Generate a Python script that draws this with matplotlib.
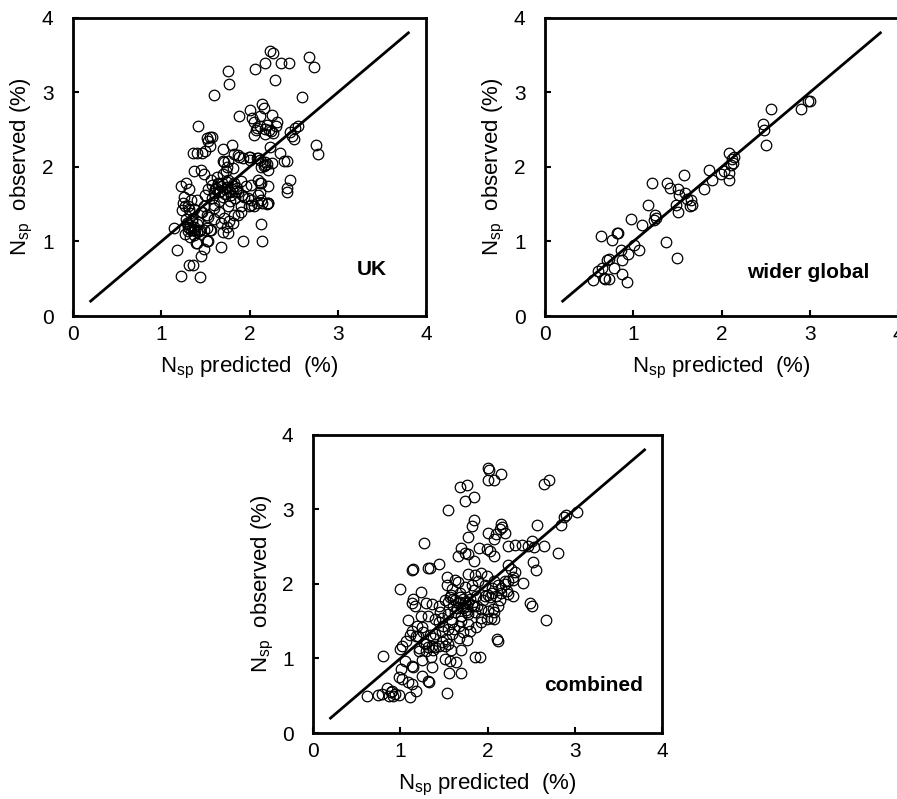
import numpy as np
import matplotlib
matplotlib.use("Agg")
import matplotlib.pyplot as plt

plt.rcParams['font.family'] = ['Liberation Sans', 'DejaVu Sans']
plt.rcParams['mathtext.default'] = 'regular'

# ---- UK ----
uk_x = [2.23, 2.27, 2.18, 2.36, 2.45, 2.67, 2.73, 2.06, 1.76, 1.77, 2.29, 1.60, 2.59, 2.75, 2.78,
        2.14, 2.16, 2.00, 1.88, 2.03, 2.05, 2.12, 2.25, 2.31, 2.30, 2.08, 2.12, 2.18, 2.22, 2.27,
        2.17, 2.05, 2.07, 2.20, 2.24, 2.52, 2.55, 2.48, 2.50, 2.46, 2.23, 2.35, 2.39, 2.42, 2.46,
        2.42, 2.43,
        1.42, 1.52, 1.55, 1.58, 1.53, 1.36, 1.40, 1.46, 1.50, 1.55, 1.70, 1.80, 1.70, 1.76, 1.82,
        1.88, 1.99, 2.01, 2.08, 2.12, 2.18, 2.20, 2.16,
        1.87, 1.93, 2.00, 2.10, 2.17, 2.25, 2.21, 2.13, 1.71, 1.75, 1.81, 1.73, 1.37, 1.45, 1.48,
        1.22, 1.28, 1.31, 1.26, 1.34,
        1.56, 1.64, 1.68, 1.76, 1.83, 1.90, 1.96, 2.02, 2.10, 2.13, 2.21, 1.53, 1.60, 1.70, 1.79,
        1.87, 1.94, 2.02, 2.10, 2.13, 2.21, 1.41, 1.48, 1.60, 1.76, 1.90, 2.05,
        1.14, 1.18, 1.31, 1.36, 1.22, 1.44, 1.45, 1.48, 1.39, 1.53, 1.68, 1.93, 2.14, 2.13, 2.21,
        2.02, 1.87, 1.81, 1.76, 1.70, 1.56, 1.34, 1.30, 1.37, 1.41, 1.48, 1.30, 1.37, 1.45, 1.53,
        1.60, 1.65, 1.71, 1.77, 1.83, 1.90, 1.37, 1.41,
        1.25, 1.27, 1.31, 1.33, 1.29, 1.31, 1.36, 1.38, 1.44, 1.52, 1.55, 1.52,
        2.12, 2.14, 2.20, 2.08, 1.99, 2.12,
        1.62, 1.67, 1.72, 1.58, 1.64, 1.74, 1.80, 1.85, 1.50, 1.57, 1.66, 1.78, 1.84, 1.92, 1.98,
        1.46, 1.52, 1.60, 1.68, 1.74, 1.35, 1.42, 1.27, 1.33, 1.63, 1.70,
        1.66, 1.72, 1.78, 1.82, 1.69, 1.75, 1.61, 1.86, 1.33, 1.40, 1.28, 1.35, 1.43, 1.30, 1.24]
uk_y = [3.56, 3.53, 3.39, 3.40, 3.40, 3.47, 3.34, 3.32, 3.29, 3.11, 3.17, 2.97, 2.94, 2.29, 2.17,
        2.85, 2.79, 2.77, 2.68, 2.66, 2.60, 2.69, 2.70, 2.61, 2.55, 2.53, 2.55, 2.51, 2.49, 2.46,
        2.44, 2.43, 2.50, 2.56, 2.48, 2.52, 2.55, 2.41, 2.37, 2.47, 2.27, 2.19, 2.08, 2.08, 1.82,
        1.72, 1.67,
        2.55, 2.39, 2.40, 2.40, 2.35, 2.19, 2.19, 2.19, 2.21, 2.28, 2.24, 2.30, 2.08, 2.08, 2.17,
        2.14, 2.14, 2.10, 2.12, 2.10, 2.03, 2.04, 2.01,
        2.16, 2.12, 2.14, 2.12, 2.07, 2.06, 1.96, 2.00, 2.07, 2.00, 1.99, 1.94, 1.94, 1.96, 1.90,
        1.74, 1.79, 1.70, 1.60, 1.56,
        1.83, 1.79, 1.74, 1.83, 1.79, 1.81, 1.74, 1.76, 1.83, 1.79, 1.74, 1.70, 1.65, 1.60, 1.63,
        1.67, 1.60, 1.56, 1.63, 1.56, 1.52, 1.56, 1.47, 1.49, 1.47, 1.47, 1.47,
        1.18, 0.89, 0.68, 0.69, 0.54, 0.52, 0.80, 0.90, 0.98, 1.00, 0.93, 1.00, 1.00, 1.23, 1.51,
        1.49, 1.36, 1.25, 1.12, 1.13, 1.16, 1.16, 1.20, 1.20, 1.13, 1.16, 1.47, 1.43, 1.39, 1.33,
        1.45, 1.39, 1.32, 1.27, 1.36, 1.39, 1.09, 0.98,
        1.52, 1.47, 1.43, 1.38, 1.25, 1.18, 1.16, 1.16, 1.16, 1.18, 1.16, 1.00,
        1.78, 1.52, 1.50, 1.52, 1.47, 1.67,
        1.72, 1.68, 1.70, 1.76, 1.77, 1.73, 1.70, 1.68, 1.62, 1.58, 1.55, 1.55, 1.58, 1.62, 1.58,
        1.40, 1.35, 1.30, 1.25, 1.20, 1.30, 1.26, 1.10, 1.06, 1.87, 1.90,
        1.66, 1.64, 1.66, 1.75, 1.79, 1.80, 1.71, 1.72, 1.22, 1.24, 1.30, 1.28, 1.14, 1.14, 1.42]

# ---- wider global ----
gl_x = [0.54, 0.60, 0.65, 0.67, 0.68, 0.73, 0.70, 0.78, 0.73, 0.87, 0.93, 0.87, 0.86, 0.94,
        1.01, 1.06, 0.64, 0.76, 0.82, 0.83, 0.97, 1.10, 1.17, 1.21, 1.25, 1.26, 1.24, 1.37,
        1.38, 1.42, 1.51, 1.52, 1.57, 1.49, 1.51, 1.59, 1.61, 1.64, 1.67, 1.66, 1.50, 1.80,
        1.86, 1.89, 1.99, 2.03, 2.09, 2.09, 2.08, 2.12, 2.13, 2.11, 2.14, 2.47, 2.48, 2.56,
        2.50, 2.90, 2.98, 3.00]
gl_y = [0.48, 0.60, 0.65, 0.51, 0.49, 0.49, 0.75, 0.64, 0.76, 0.56, 0.45, 0.75, 0.89, 0.83,
        0.95, 0.89, 1.08, 1.02, 1.11, 1.12, 1.30, 1.22, 1.49, 1.78, 1.36, 1.31, 1.29, 0.99,
        1.78, 1.72, 1.70, 1.63, 1.89, 1.49, 1.39, 1.65, 1.57, 1.47, 1.49, 1.56, 0.78, 1.71,
        1.96, 1.82, 1.90, 1.94, 2.19, 1.92, 1.82, 2.11, 2.05, 2.03, 2.14, 2.58, 2.49, 2.78,
        2.29, 2.78, 2.88, 2.88]

# ---- combined ----
cb_x = [2.00, 2.02, 2.01, 2.08, 2.15, 1.69, 1.77, 1.74, 1.84, 1.55, 2.65, 2.71, 3.03, 2.88,
        2.90, 2.84, 2.81, 2.57, 2.65, 1.27, 1.84, 1.82, 1.78, 2.00, 2.16, 2.17, 2.14, 2.10,
        2.07, 2.20, 1.70, 1.74, 1.78, 1.90, 1.99, 2.03, 2.07, 2.24, 2.31, 2.40, 2.46, 2.51,
        2.53, 1.66, 1.84, 1.13, 1.15, 1.32, 1.34, 1.44, 1.00, 2.52, 2.56, 2.41, 2.24, 2.27,
        2.31, 2.29, 2.24, 2.20, 2.29, 2.49, 2.51, 2.67, 2.11, 2.12, 1.86, 1.91, 0.80, 0.62,
        0.75, 0.79, 0.85, 0.89, 0.90, 0.94, 0.98, 0.87, 0.92, 1.11, 1.18, 1.13, 1.54, 0.98,
        1.02, 1.09, 1.25, 1.32, 1.33, 1.01, 1.05, 1.13, 1.15, 1.25, 1.35, 1.36, 1.56, 1.70,
        1.51, 1.57, 1.64, 1.70, 1.77, 1.00, 1.02, 1.06, 1.11, 1.14, 1.19, 1.25, 1.09, 1.13,
        1.15, 1.17, 1.24, 1.30, 1.24,
        1.27, 1.30, 1.32, 1.36, 1.40, 1.44, 1.48, 1.51, 1.55,
        1.40, 1.48, 1.55, 1.59, 1.67, 1.72, 1.80, 1.87, 1.93, 1.99, 2.04,
        1.32, 1.40, 1.48, 1.55, 1.63, 1.70, 1.78, 1.86, 1.93, 2.01, 2.08,
        1.36, 1.44, 1.51, 1.57, 1.63, 1.68, 1.74, 1.80, 1.87, 1.95, 2.03, 2.10, 2.16, 2.24, 2.29,
        1.53, 1.59, 1.66, 1.74, 1.82, 1.89, 1.97, 2.05, 2.12, 2.20,
        1.53, 1.63, 1.78, 1.86, 1.93, 1.99, 2.08,
        1.44, 1.49, 1.59, 1.67, 1.78, 2.08, 2.06, 2.12, 2.14,
        1.60, 1.66, 1.72, 1.75, 1.82, 1.58, 1.69, 1.88, 1.92, 1.62, 1.70, 1.46, 1.52, 1.20,
        1.22, 1.38, 1.58, 1.77, 1.85, 2.00,
        1.55, 1.61, 1.68, 1.72, 1.78, 1.84, 1.65, 1.76, 1.18, 1.26, 1.34, 1.21, 1.29, 1.37,
        1.97, 2.05, 2.16, 2.22]
cb_y = [3.56, 3.53, 3.40, 3.40, 3.47, 3.30, 3.33, 3.12, 3.17, 2.99, 3.34, 3.40, 2.96, 2.90,
        2.92, 2.79, 2.42, 2.79, 2.51, 2.55, 2.86, 2.78, 2.63, 2.68, 2.81, 2.77, 2.74, 2.67,
        2.60, 2.69, 2.48, 2.41, 2.40, 2.48, 2.47, 2.44, 2.37, 2.51, 2.53, 2.53, 2.51, 2.58,
        2.49, 2.37, 2.31, 2.19, 2.20, 2.21, 2.22, 2.27, 1.93, 2.29, 2.19, 2.01, 2.25, 2.20,
        2.16, 2.09, 2.04, 2.00, 2.05, 1.75, 1.70, 1.52, 1.26, 1.24, 1.02, 1.02, 1.04, 0.50,
        0.51, 0.52, 0.60, 0.55, 0.57, 0.52, 0.51, 0.50, 0.50, 0.48, 0.57, 0.66, 0.54, 0.75,
        0.72, 0.69, 0.77, 0.70, 0.69, 0.86, 0.97, 0.90, 0.89, 0.98, 1.02, 0.88, 0.81, 0.81,
        0.99, 0.97, 0.95, 1.11, 1.25, 1.13, 1.17, 1.24, 1.31, 1.37, 1.44, 1.42, 1.51, 1.75,
        1.80, 1.71, 1.89, 1.75, 1.57,
        1.21, 1.19, 1.15, 1.17, 1.15, 1.17, 1.22, 1.17, 1.19,
        1.33, 1.37, 1.40, 1.33, 1.28, 1.35, 1.37, 1.42, 1.49, 1.53, 1.55,
        1.57, 1.53, 1.55, 1.60, 1.62, 1.57, 1.60, 1.62, 1.66, 1.64, 1.62,
        1.73, 1.71, 1.78, 1.82, 1.78, 1.82, 1.75, 1.80, 1.84, 1.78, 1.82, 1.84, 1.88, 1.86, 1.84,
        1.98, 1.93, 2.02, 1.96, 1.98, 2.04, 1.99, 1.95, 1.98, 2.04,
        2.09, 2.06, 2.13, 2.12, 2.15, 2.11, 2.04,
        1.49, 1.44, 1.49, 1.44, 1.46, 1.53, 1.66, 1.71, 1.78,
        1.70, 1.74, 1.68, 1.65, 1.72, 1.85, 1.88, 1.70, 1.55, 1.40, 1.50, 1.62, 1.26, 1.30,
        1.10, 1.28, 1.12, 1.70, 1.92, 1.85,
        1.76, 1.80, 1.76, 1.80, 1.76, 1.70, 1.68, 1.62, 1.30, 1.36, 1.32, 1.14, 1.10, 1.12,
        1.84, 1.88, 1.94, 1.90]

panels = [(uk_x, uk_y, 'UK', 3.55, 0.62),
          (gl_x, gl_y, 'wider global', 3.68, 0.58),
          (cb_x, cb_y, 'combined', 3.78, 0.64)]
line_ends = [0.2, 3.8]
ticks = [0, 1, 2, 3, 4]

fig = plt.figure(figsize=(8.97, 7.99), dpi=100)
rects = [[0.0814, 0.6045, 0.3935, 0.373],
         [0.6076, 0.6045, 0.3935, 0.373],
         [0.349, 0.0826, 0.3890, 0.373]]

for (px, py, name, tx, ty), r in zip(panels, rects):
    ax = fig.add_axes(r)
    ax.plot(line_ends, line_ends, color='black', lw=2)
    ax.plot(px, py, 'o', mfc='none', mec='black', ms=7.6, mew=0.9)
    ax.set_xlim(0, 4)
    ax.set_ylim(0, 4)
    ax.set_xticks(ticks)
    ax.set_yticks(ticks)
    for s in ax.spines.values():
        s.set_linewidth(2)
    ax.tick_params(direction='in', length=4.5, width=1.5, labelsize=15)
    ax.tick_params(axis='x', pad=6.5)
    ax.tick_params(axis='y', pad=14)
    ax.text(tx, ty, name, ha='right', va='center', fontsize=15, fontweight='bold')
    ax.set_xlabel('N$_{sp}$ predicted  (%)', fontsize=16)
    ax.set_ylabel('N$_{sp}$  observed (%)', fontsize=16)
    ax.xaxis.set_label_coords(0.5, -0.175)
    ax.xaxis.label.set_va('center')
    ax.yaxis.set_label_coords(-0.145, 0.5)
    ax.yaxis.label.set_va('center')

fig.savefig('out.png', dpi=100)
